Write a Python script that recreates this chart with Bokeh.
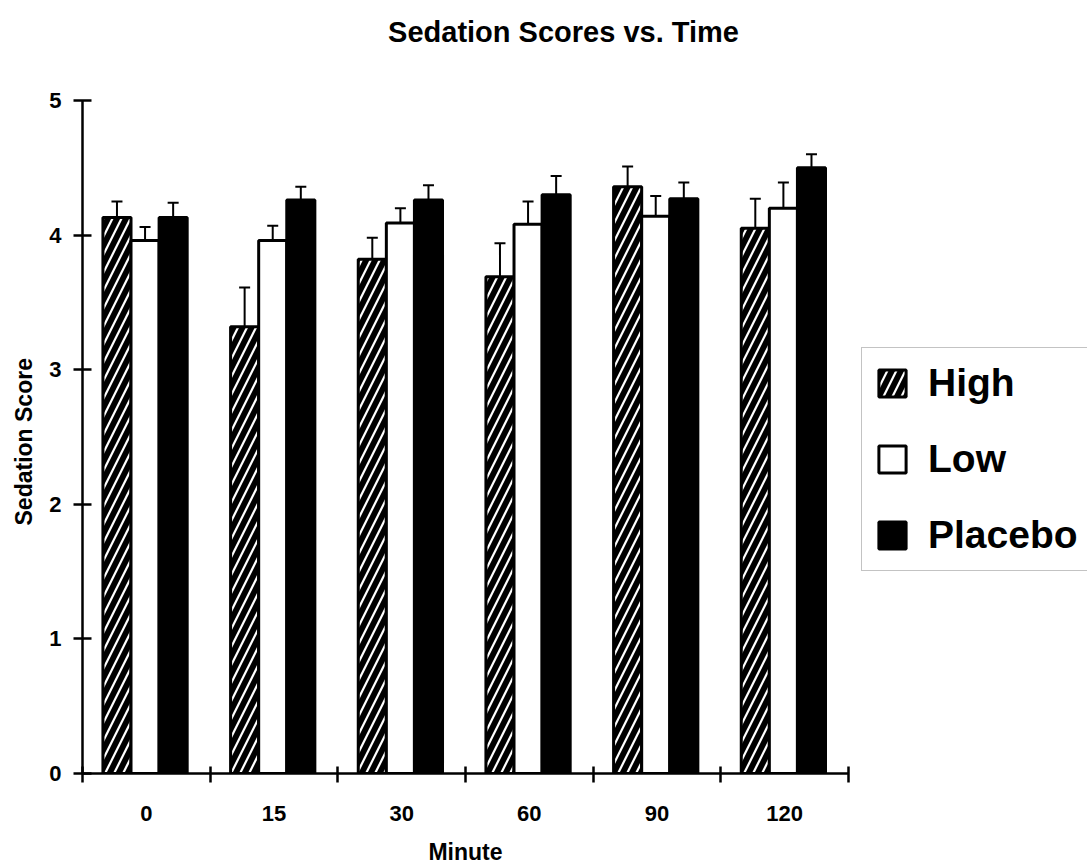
import numpy as np
from bokeh.plotting import figure
from bokeh.models import (ColumnDataSource, Range1d, FixedTicker, Whisker, TeeHead,
                          Legend, LegendItem, Label, Title)
from bokeh.transform import dodge
from bokeh.embed import file_html
from bokeh.resources import INLINE

# ---- data ----
minutes = ["0", "15", "30", "60", "90", "120"]
high = [4.13, 3.32, 3.82, 3.69, 4.36, 4.05]
high_err = [0.12, 0.29, 0.16, 0.25, 0.15, 0.22]
low = [3.96, 3.96, 4.09, 4.08, 4.14, 4.20]
low_err = [0.10, 0.11, 0.11, 0.17, 0.15, 0.19]
placebo = [4.13, 4.26, 4.26, 4.30, 4.27, 4.50]
placebo_err = [0.11, 0.10, 0.11, 0.14, 0.12, 0.10]
y_ticks = [0, 1, 2, 3, 4, 5]
title_text = "Sedation Scores vs. Time"
y_label = "Sedation Score"
x_label = "Minute"

FONT = "Liberation Sans"

# layout (pixels)
FRAME_W, PLOT_H, TOP_GAP = 766, 673, 100
y_max = y_ticks[-1]
y_top = y_max * (PLOT_H + TOP_GAP) / PLOT_H

pos = np.arange(len(minutes)) + 0.5
src = ColumnDataSource(dict(
    pos=pos, minute=minutes,
    high=high, high_up=np.array(high) + np.array(high_err),
    low=low, low_up=np.array(low) + np.array(low_err),
    placebo=placebo, placebo_up=np.array(placebo) + np.array(placebo_err),
))

p = figure(output_backend="svg", toolbar_location=None,
           x_range=Range1d(0, len(minutes)), y_range=Range1d(0, y_top),
           min_border_left=82, min_border_right=239, min_border_top=0, min_border_bottom=93)
p.frame_width = FRAME_W
p.frame_height = PLOT_H + TOP_GAP
p.outline_line_color = None
p.xgrid.visible = False
p.ygrid.visible = False
p.background_fill_color = "white"
p.border_fill_color = "white"
p.title.text = ""

# title drawn as a label in the space above the y-axis top
px_per_x = FRAME_W / len(minutes)
px_per_y = PLOT_H / y_max
title = Label(x=(563 - 82) / px_per_x, y=y_max + (TOP_GAP - 31) / px_per_y,
              text=title_text, text_align="center", text_baseline="middle",
              text_font=FONT, text_font_size="29px", text_font_style="bold",
              text_color="black")
p.add_layout(title)

W = 0.22
offs = [-0.23, -0.01, 0.21]
r_high = p.vbar(x=dodge("pos", offs[0]), top="high", bottom=0, width=W, source=src,
                fill_color="black", line_color="black", line_width=3,
                hatch_pattern="/", hatch_color="white", hatch_scale=18, hatch_weight=2.2)
r_low = p.vbar(x=dodge("pos", offs[1]), top="low", bottom=0, width=W, source=src,
               fill_color="white", line_color="black", line_width=3)
r_plac = p.vbar(x=dodge("pos", offs[2]), top="placebo", bottom=0, width=W, source=src,
                fill_color="black", line_color="black", line_width=3)

for off, base_col, up_col in [(offs[0], "high", "high_up"), (offs[1], "low", "low_up"),
                              (offs[2], "placebo", "placebo_up")]:
    w = Whisker(base=dodge("pos", off), lower=base_col, upper=up_col, source=src,
                dimension="height", line_color="black", line_width=2,
                upper_head=TeeHead(size=11, line_color="black", line_width=2),
                lower_head=None)
    p.add_layout(w)

# axes
xa = p.xaxis[0]
xa.ticker = FixedTicker(ticks=list(pos), minor_ticks=list(range(len(minutes) + 1)))
xa.major_label_overrides = {float(v): m for v, m in zip(pos, minutes)}
xa.major_tick_line_color = None
xa.major_tick_in = 0
xa.major_tick_out = 0
xa.minor_tick_in = 7
xa.minor_tick_out = 9
xa.minor_tick_line_width = 2.5
xa.minor_tick_line_color = "black"
xa.axis_line_width = 2.5
xa.axis_line_color = "black"
xa.axis_label = x_label
xa.axis_label_text_font = FONT
xa.axis_label_text_font_size = "23px"
xa.axis_label_text_font_style = "bold"
xa.axis_label_text_color = "black"
xa.axis_label_standoff = 15
xa.major_label_text_font = FONT
xa.major_label_text_font_size = "22px"
xa.major_label_text_font_style = "bold"
xa.major_label_text_color = "black"
xa.major_label_standoff = 23

ya = p.yaxis[0]
ya.ticker = FixedTicker(ticks=y_ticks, minor_ticks=[])
ya.bounds = (0, y_max)
ya.major_tick_in = 9
ya.major_tick_out = 9
ya.major_tick_line_width = 2.5
ya.major_tick_line_color = "black"
ya.axis_line_width = 2.5
ya.axis_line_color = "black"
ya.minor_tick_line_color = None
ya.axis_label = None
ya.major_label_text_font = FONT
ya.major_label_text_font_size = "22px"
ya.major_label_text_font_style = "bold"
ya.major_label_text_color = "black"
ya.major_label_standoff = 12

# y-axis title, centred on the 0..5 axis span rather than the whole frame
ytitle = Title(text=y_label, align="left", vertical_align="top",
               offset=248, standoff=16,
               text_font=FONT, text_font_size="23px", text_font_style="bold",
               text_color="black")
p.add_layout(ytitle, "left")

legend = Legend(items=[LegendItem(label="High", renderers=[r_high]),
                       LegendItem(label="Low", renderers=[r_low]),
                       LegendItem(label="Placebo", renderers=[r_plac])],
                location=(13, 202), orientation="vertical",
                border_line_color="#888888", border_line_dash="dashed", border_line_width=1,
                background_fill_color="white", background_fill_alpha=1.0,
                padding=13, spacing=32, margin=0,
                glyph_width=34, glyph_height=34, label_standoff=19,
                label_text_font=FONT, label_text_font_size="39px",
                label_text_color="black",
                label_text_font_style="bold", label_text_baseline="middle")
p.add_layout(legend, "right")

open("out.html", "w").write(file_html(p, INLINE))
